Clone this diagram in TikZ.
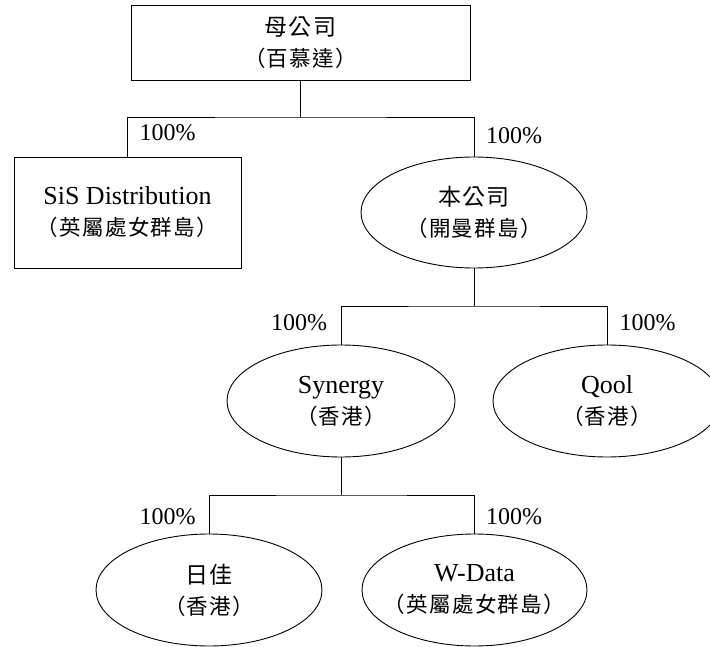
\documentclass[tikz,border=0pt]{standalone}
\usepackage{fontspec}
\setmainfont{Liberation Serif}
\newfontfamily\cjk{Noto Sans CJK TC}[LetterSpace=6]
\usetikzlibrary{shapes.geometric}
\newcommand{\cja}[1]{{\cjk\fontsize{23}{31}\selectfont #1}}
\newcommand{\cjb}[1]{{\cjk\fontsize{21.5}{31}\selectfont #1}}
\begin{document}
\begin{tikzpicture}[x=1pt,y=-1pt,line width=0.9pt,
  entity/.style={draw,inner sep=0pt},
  boxent/.style={entity,rectangle},
  ellent/.style={entity,ellipse},
  etext/.style={align=center,inner sep=0pt,font=\fontsize{26}{31}\selectfont},
  pct/.style={font=\fontsize{24}{28}\selectfont,inner sep=0pt}]
\useasboundingbox (0,0) rectangle (710,647);
\node[boxent,minimum width=339pt,minimum height=75pt] (top) at (300.5,42.5) {};
\node[etext] (top-t) at (top) {\cja{母公司}\\\cjb{（百慕達）}};
\node[boxent,minimum width=227pt,minimum height=111pt] (sis) at (127.5,212.5) {};
\node[etext] (sis-t) at (sis) {SiS Distribution\\\cjb{（英屬處女群島）}};
\node[ellent,minimum width=226pt,minimum height=111pt] (ben) at (474,212.5) {};
\node[etext] (ben-t) at (ben) {\cja{本公司}\\\cjb{（開曼群島）}};
\node[ellent,minimum width=228pt,minimum height=112pt] (syn) at (341,401) {};
\node[etext] (syn-t) at (syn) {Synergy\\\cjb{（香港）}};
\node[ellent,minimum width=228pt,minimum height=112pt] (qool) at (607,401) {};
\node[etext] (qool-t) at (qool) {Qool\\\cjb{（香港）}};
\node[ellent,minimum width=226pt,minimum height=112pt] (rijia) at (209,590) {};
\node[etext] (rijia-t) at (rijia) {\cja{日佳}\\\cjb{（香港）}};
\node[ellent,minimum width=225pt,minimum height=112pt] (wdata) at (474.5,590) {};
\node[etext] (wdata-t) at (wdata) {W-Data\\\cjb{（英屬處女群島）}};
\coordinate (j1) at (300.5,117);
\coordinate (j2) at (474,306);
\coordinate (j3) at (341,495);
\draw (top.south) -- (j1);
\draw (sis.north) |- (j1) -| (ben.north);
\draw (ben.south) -- (j2);
\draw (syn.north) |- (j2) -| (qool.north);
\draw (syn.south) -- (j3);
\draw (rijia.north) |- (j3) -| (wdata.north);
\node[pct] (p1) at (167.5,133) {100\%};
\node[pct] (p2) at (514,136) {100\%};
\node[pct] (p3) at (299,323) {100\%};
\node[pct] (p4) at (647.5,323) {100\%};
\node[pct] (p5) at (167.5,517) {100\%};
\node[pct] (p6) at (514,517) {100\%};
\end{tikzpicture}
\end{document}
